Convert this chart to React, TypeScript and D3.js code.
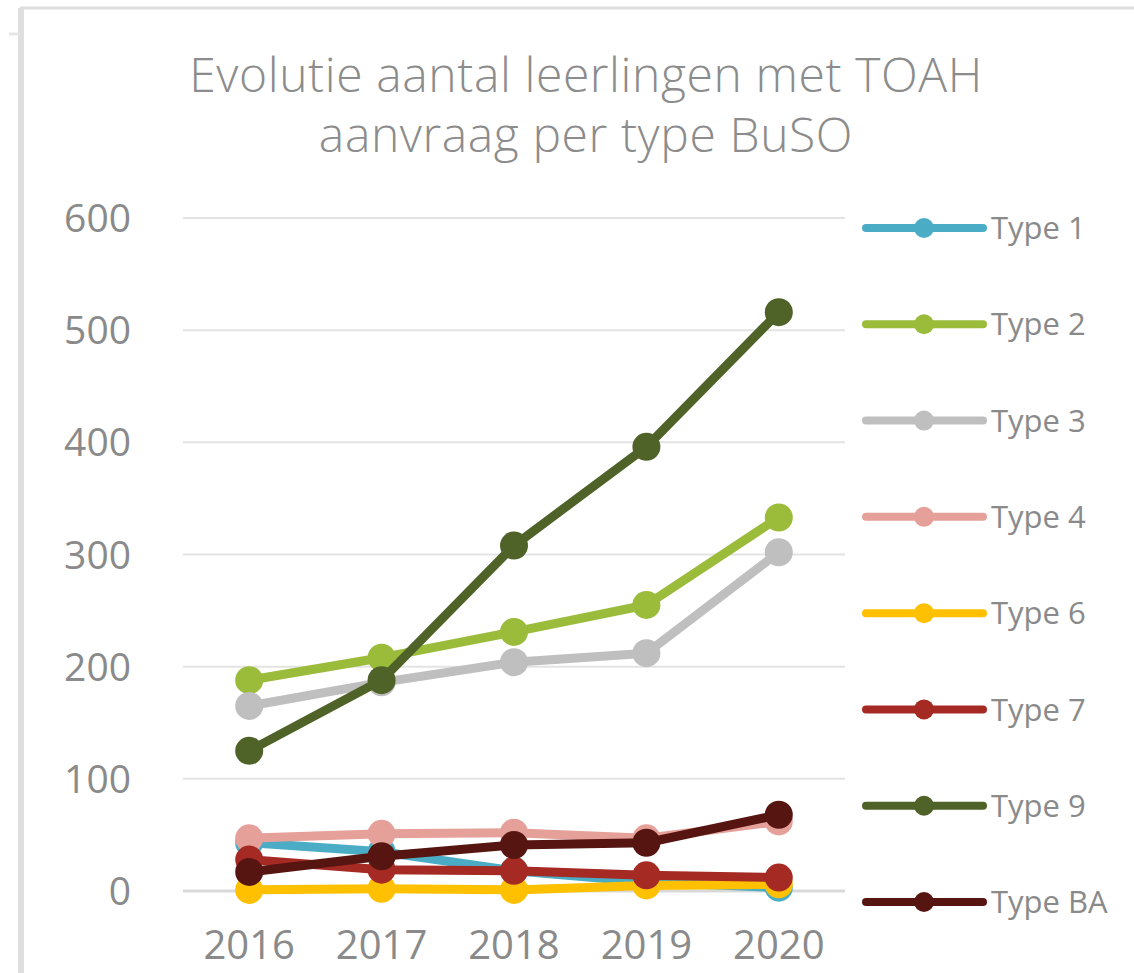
import React from 'react';
import { scaleLinear, scalePoint, line } from 'd3';

const years = ['2016', '2017', '2018', '2019', '2020'];
const yTicks = [0, 100, 200, 300, 400, 500, 600];

const type1 = [43, 35, 18, 8, 3];
const type2 = [188, 208, 231, 255, 333];
const type3 = [165, 186, 204, 212, 302];
const type4 = [47, 51, 52, 47, 62];
const type6 = [1, 2, 1, 5, 6];
const type7 = [28, 19, 18, 14, 12];
const type9 = [125, 188, 308, 396, 516];
const typeBA = [17, 31, 41, 43, 68];

const seriesNames = ['Type 1', 'Type 2', 'Type 3', 'Type 4', 'Type 6', 'Type 7', 'Type 9', 'Type BA'];
const seriesColors = ['#4bacc6', '#9bbb3b', '#bfbfbf', '#e6a09a', '#ffc000', '#a52a23', '#4f6228', '#561511'];
const seriesValues = [type1, type2, type3, type4, type6, type7, type9, typeBA];

const App: React.FC = () => {
    const width = 1134;
    const height = 973;
    const plot = { left: 183, right: 845, top: 218, bottom: 891 };

    const xScale = scalePoint<string>()
        .domain(years)
        .range([plot.left, plot.right])
        .padding(0.5);

    const yScale = scaleLinear()
        .domain([0, 600])
        .range([plot.bottom, plot.top]);

    const lineGen = line<number>()
        .x((_, i) => xScale(years[i]) as number)
        .y(d => yScale(d));

    const font = "'Open Sans', 'DejaVu Sans', sans-serif";
    const textColor = '#8a8a8a';

    // legend rows are evenly spaced down the right edge
    const legendY = scaleLinear().domain([0, seriesNames.length - 1]).range([228, 902]);

    return (
        <svg width={width} height={height} style={{ position: 'absolute', left: 0, top: 0, display: 'block' }}>
            <rect width={width} height={height} fill="#ffffff" />
            {/* chart frame */}
            <line x1={20} y1={8} x2={width} y2={8} stroke="#dedede" strokeWidth={3} />
            <line x1={21} y1={8} x2={21} y2={height} stroke="#dedede" strokeWidth={6} />
            <line x1={9} y1={34} x2={20} y2={34} stroke="#e6e6e6" strokeWidth={3} />

            {/* title */}
            <text x={586} y={92} textAnchor="middle" fontFamily={font} fontSize={48} letterSpacing={0.6} fill="#8c8c8c" fontWeight={300}>
                Evolutie aantal leerlingen met TOAH
            </text>
            <text x={586} y={152} textAnchor="middle" fontFamily={font} fontSize={48} letterSpacing={0.6} fill="#8c8c8c" fontWeight={300}>
                aanvraag per type BuSO
            </text>

            {/* gridlines + y labels */}
            <g>
                {yTicks.map(t => (
                    <g key={t}>
                        <line x1={plot.left} x2={plot.right} y1={yScale(t)} y2={yScale(t)}
                            stroke={t === 0 ? '#d9d9d9' : '#e3e3e3'} strokeWidth={t === 0 ? 3 : 2} />
                        <text x={131} y={yScale(t)} dy="0.36em" textAnchor="end" fontFamily={font} fontSize={39} fill={textColor}>
                            {t}
                        </text>
                    </g>
                ))}
            </g>

            {/* x labels */}
            <g>
                {years.map(y => (
                    <text key={y} x={xScale(y)} y={959} textAnchor="middle" fontFamily={font} fontSize={40} fill={textColor}>
                        {y}
                    </text>
                ))}
            </g>

            {/* series */}
            <g>
                {seriesValues.map((vals, si) => (
                    <g key={seriesNames[si]}>
                        <path d={lineGen(vals) || ''} fill="none" stroke={seriesColors[si]} strokeWidth={9}
                            strokeLinejoin="round" strokeLinecap="round" />
                        {vals.map((v, i) => (
                            <circle key={i} cx={xScale(years[i])} cy={yScale(v)} r={14} fill={seriesColors[si]} />
                        ))}
                    </g>
                ))}
            </g>

            {/* legend */}
            <g>
                {seriesNames.map((name, si) => {
                    const ly = legendY(si);
                    return (
                        <g key={name}>
                            <line x1={866} x2={983} y1={ly} y2={ly} stroke={seriesColors[si]} strokeWidth={8} strokeLinecap="round" />
                            <circle cx={924} cy={ly} r={10} fill={seriesColors[si]} />
                            <text x={991} y={ly} dy="0.36em" fontFamily={font} fontSize={31} fill={textColor}>
                                {name}
                            </text>
                        </g>
                    );
                })}
            </g>
        </svg>
    );
};

export default App;
